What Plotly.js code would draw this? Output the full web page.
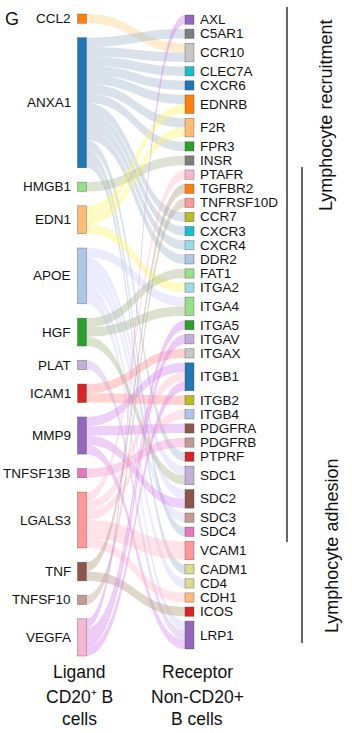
<!DOCTYPE html>
<html><head><meta charset="utf-8">
<script src="https://cdn.plot.ly/plotly-3.0.1.min.js"></script>
<style>html,body{margin:0;padding:0;background:#fff;} #chart{width:352px;height:733px;}</style>
</head><body><div id="chart"></div>
<script>
// ---------- data ----------
const ligands = ['CCL2','ANXA1','HMGB1','EDN1','APOE','HGF','PLAT','ICAM1','MMP9','TNFSF13B','LGALS3','TNF','TNFSF10','VEGFA'];
const receptors = ['AXL','C5AR1','CCR10','CLEC7A','CXCR6','EDNRB','F2R','FPR3','INSR','PTAFR','TGFBR2','TNFRSF10D','CCR7','CXCR3','CXCR4','DDR2','FAT1','ITGA2','ITGA4','ITGA5','ITGAV','ITGAX','ITGB1','ITGB2','ITGB4','PDGFRA','PDGFRB','PTPRF','SDC1','SDC2','SDC3','SDC4','VCAM1','CADM1','CD4','CDH1','ICOS','LRP1'];
const pairLigand = ['CCL2','ANXA1','ANXA1','ANXA1','ANXA1','ANXA1','ANXA1','ANXA1','ANXA1','ANXA1','ANXA1','ANXA1','ANXA1','ANXA1','ANXA1',
  'HMGB1','EDN1','EDN1','EDN1','APOE','APOE','APOE','APOE','APOE','APOE','HGF','HGF','HGF','PLAT','ICAM1','ICAM1',
  'MMP9','MMP9','MMP9','MMP9','TNFSF13B','LGALS3','LGALS3','LGALS3','LGALS3','LGALS3','TNF','TNF','TNFSF10','VEGFA','VEGFA','VEGFA','VEGFA'];
const pairReceptor = ['CCR10','C5AR1','CCR10','CLEC7A','CXCR6','EDNRB','F2R','FPR3','CCR7','CXCR3','CXCR4','DDR2','PTPRF','SDC4','CADM1',
  'INSR','EDNRB','F2R','ITGA2','ITGA4','SDC1','SDC2','SDC3','CD4','LRP1','FAT1','ITGA4','SDC1','LRP1','ITGAX','ITGB2',
  'ITGB1','PDGFRA','SDC2','LRP1','PDGFRB','PTAFR','ITGB1','ITGB4','VCAM1','CDH1','TGFBR2','ICOS','TNFRSF10D','AXL','ITGA5','ITGAV','ITGB1'];
const pairValue = [1,1,1,1,1,1,1,1,1,1,1,1,1,1,1,
  1,1,1,1,1,1,1,1,1,1,1,1,1,1,1,1,
  1,1,1,1,1,1,1,1,2,1,1,1,1,1,1,1,1];
const ligandColors = ['#ff7f0e','#1f77b4','#98df8a','#ffbb78','#aec7e8','#2ca02c','#c5b0d5','#d62728','#9467bd','#e377c2','#ff9896','#8c564b','#c49c94','#f7b6d2'];
const receptorColors = ['#9467bd','#7f7f7f','#c7c7c7','#17becf','#1f77b4','#ff7f0e','#ffbb78','#2ca02c','#7f7f7f','#f7b6d2','#ff7f0e','#ff9896','#bcbd22','#17becf','#9edae5','#aec7e8','#98df8a','#9edae5','#98df8a','#2ca02c','#c5b0d5','#c7c7c7','#1f77b4','#bcbd22','#aec7e8','#8c564b','#c49c94','#d62728','#c5b0d5','#8c564b','#c49c94','#e377c2','#ff9896','#dbdb8d','#dbdb8d','#ffbb78','#d62728','#9467bd'];
const flowColors = ['rgba(253,205,120,0.38)','rgba(150,172,198,0.36)','rgba(168,180,140,0.38)','rgba(250,245,110,0.42)','rgba(196,196,250,0.34)','rgba(160,175,128,0.38)','rgba(205,165,235,0.38)','rgba(255,140,140,0.4)','rgba(212,140,236,0.42)','rgba(240,150,210,0.42)','rgba(255,185,200,0.4)','rgba(178,158,128,0.42)','rgba(190,168,140,0.42)','rgba(215,128,235,0.42)'];

// ---------- layout computation ----------
const W = 352, H = 733;
const pad = 7.5, thick = 9;
const sum = a => a.reduce((s, v) => s + v, 0);
const ligTot = ligands.map(l => sum(pairValue.filter((v, i) => pairLigand[i] === l)));
const recTot = receptors.map(r => sum(pairValue.filter((v, i) => pairReceptor[i] === r)));
const total = sum(pairValue);
const ky = Math.min((H - (ligands.length - 1) * pad) / total, (H - (receptors.length - 1) * pad) / total);
function stack(vals, top, bottom) {
  const hs = vals.map(v => v * ky);
  const gap = (bottom - top - sum(hs)) / (vals.length - 1);
  let y = top;
  return hs.map(h => { const c = y + h / 2; y += h + gap; return c; });
}
const ligY = stack(ligTot, 14, 656);
const recY = stack(recTot, 15, 649);
const ligX = 82 / W, recX = 189.5 / W;

const nodeColors = ligandColors.concat(receptorColors);
const nx = ligands.map(() => ligX).concat(receptors.map(() => recX));
const ny = ligY.concat(recY).map(c => c / H);
const src = pairLigand.map(l => ligands.indexOf(l));
const tgt = pairReceptor.map(r => ligands.length + receptors.indexOf(r));
const lcol = pairLigand.map(l => flowColors[ligands.indexOf(l)]);

const trace = {
  type: 'sankey', arrangement: 'fixed',
  domain: {x: [0, 1], y: [0, 1]},
  node: {label: nodeColors.map(() => ''), color: nodeColors, x: nx, y: ny, pad: pad, thickness: thick,
         line: {color: 'rgba(60,60,60,0.55)', width: 0.6}},
  link: {source: src, target: tgt, value: pairValue, color: lcol, line: {width: 0}}
};

const FONT = 'Arial, "Liberation Sans", sans-serif';
const ann = [];
ligands.forEach((l, i) => ann.push({text: l, x: 71.5 / W, y: 1 - ligY[i] / H, xref: 'paper', yref: 'paper',
  xanchor: 'right', yanchor: 'middle', showarrow: false, borderpad: 0, font: {family: FONT, size: 13.5, color: '#111'}}));
receptors.forEach((r, i) => ann.push({text: r, x: 199 / W, y: 1 - recY[i] / H, xref: 'paper', yref: 'paper',
  xanchor: 'left', yanchor: 'middle', showarrow: false, borderpad: 0, font: {family: FONT, size: 13.5, color: '#111'}}));
const bottomLeft = ['Ligand', 'CD20⁺ B', 'cells'];
const bottomRight = ['Receptor', 'Non-CD20+', 'B cells'];
const rowY = [672, 697, 719];
bottomLeft.forEach((t, i) => ann.push({text: t, x: 79 / W, y: 1 - rowY[i] / H, xref: 'paper', yref: 'paper',
  xanchor: 'center', yanchor: 'middle', showarrow: false, borderpad: 0, font: {family: FONT, size: 17.5, color: '#111'}}));
bottomRight.forEach((t, i) => ann.push({text: t, x: 197 / W, y: 1 - rowY[i] / H, xref: 'paper', yref: 'paper',
  xanchor: 'center', yanchor: 'middle', showarrow: false, borderpad: 0, font: {family: FONT, size: 17.5, color: '#111'}}));
ann.push({text: 'G', x: 4 / W, y: 1 - 19 / H, xref: 'paper', yref: 'paper', xanchor: 'left', yanchor: 'middle',
  showarrow: false, borderpad: 0, font: {family: FONT, size: 18, color: '#111'}});
ann.push({text: 'Lymphocyte recruitment', textangle: -90, x: 326 / W, y: 1 - 116 / H, xref: 'paper', yref: 'paper',
  xanchor: 'center', yanchor: 'middle', showarrow: false, borderpad: 0, font: {family: FONT, size: 18, color: '#111'}});
ann.push({text: 'Lymphocyte adhesion', textangle: -90, x: 332 / W, y: 1 - 546 / H, xref: 'paper', yref: 'paper',
  xanchor: 'center', yanchor: 'middle', showarrow: false, borderpad: 0, font: {family: FONT, size: 18, color: '#111'}});

const shapes = [
  {type: 'line', xref: 'paper', yref: 'paper', x0: 287 / W, x1: 287 / W, y0: 1 - 7 / H, y1: 1 - 542 / H, line: {color: '#111', width: 1.3}},
  {type: 'line', xref: 'paper', yref: 'paper', x0: 302 / W, x1: 302 / W, y0: 1 - 167 / H, y1: 1 - 643 / H, line: {color: '#111', width: 1.3}}
];

Plotly.newPlot('chart', [trace], {
  width: W, height: H, margin: {l: 0, r: 0, t: 0, b: 0},
  paper_bgcolor: '#fff', plot_bgcolor: '#fff', font: {family: FONT},
  annotations: ann, shapes: shapes, showlegend: false
}, {displayModeBar: false, staticPlot: true});
</script></body></html>
